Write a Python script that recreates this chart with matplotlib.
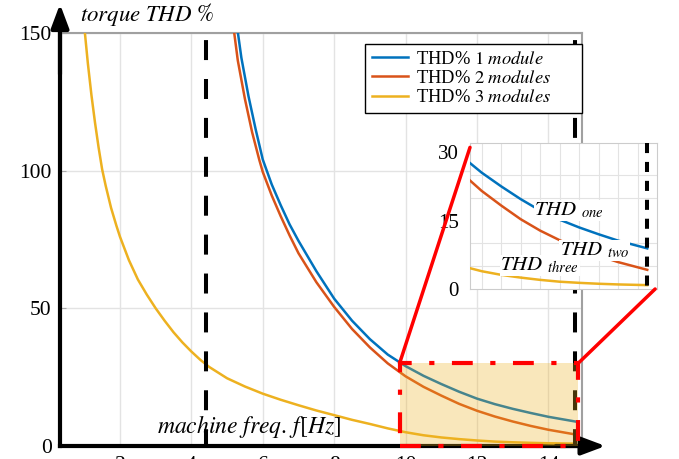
import matplotlib
matplotlib.use("Agg")
import matplotlib.pyplot as plt
from matplotlib.patches import Rectangle, ConnectionPatch

plt.rcParams['font.family'] = ['Liberation Serif', 'DejaVu Serif']
plt.rcParams['mathtext.fontset'] = 'stix'

# machine frequency [Hz] and torque THD [%]
freq_1 = [5.25, 5.4, 5.6, 5.8, 6.0, 6.25, 6.5, 6.75, 7.0, 7.5, 8.0, 8.5, 9.0,
          9.5, 10.0, 10.5, 11.0, 11.5, 12.0, 12.5, 13.0, 13.5, 14.0, 14.75]
thd_1 = [155, 141, 127, 115, 104, 95, 87.5, 80.5, 74.5, 63.5, 53.5, 45.5,
         38.8, 33.2, 29, 25.5, 22.5, 19.7, 17.2, 15.2, 13.5, 12.0, 10.6, 8.9]

freq_2 = [5.15, 5.3, 5.5, 5.7, 5.9, 6.0, 6.25, 6.5, 6.75, 7.0, 7.5, 8.0, 8.5,
          9.0, 9.5, 10.0, 10.5, 11.0, 11.5, 12.0, 12.5, 13.0, 13.5, 14.0,
          14.75]
thd_2 = [155, 140, 126, 114, 104, 99.5, 91, 83.5, 76.5, 70, 59.5, 50.5, 42.5,
         35.8, 30, 25.3, 21.5, 18.3, 15.3, 12.8, 10.7, 8.9, 7.3, 5.9, 4.2]

freq_3 = [0.98, 1.1, 1.2, 1.3, 1.4, 1.5, 1.6, 1.75, 1.9, 2.0, 2.25, 2.5, 2.75,
          3.0, 3.25, 3.5, 3.75, 4.0, 4.25, 4.5, 5.0, 5.5, 6.0, 6.5, 7.0, 7.5,
          8.0, 8.5, 9.0, 9.5, 10.0, 10.5, 11.0, 11.5, 12.0, 12.5, 13.0, 13.5,
          14.0, 14.75]
thd_3 = [155, 139, 127.5, 117.5, 108.5, 100.5, 94.5, 86.5, 80, 76, 67.5, 60.5,
         55, 50, 45.5, 41.3, 37.6, 34.3, 31.3, 28.7, 24.6, 21.6, 19, 16.8,
         14.8, 12.9, 11.2, 9.5, 8.0, 6.4, 5.0, 3.9, 3.1, 2.5, 2.0, 1.6, 1.35,
         1.15, 1.0, 0.85]

labels = [r"THD% $\mathit{1\ module}$", r"THD% $\mathit{2\ modules}$",
          r"THD% $\mathit{3\ modules}$"]
colors = ['#0072BD', '#D95319', '#EDB120']

x_ticks = [2, 4, 6, 8, 10, 12, 14]
y_ticks = [0, 50, 100, 150]
inset_y_ticks = [0, 15, 30]
marker_freqs = [4.4, 14.75]
zoom_f = (9.83, 14.83)
zoom_thd = (0, 30)

fig = plt.figure(figsize=(6.79, 4.59), dpi=100)
ax = fig.add_axes([60 / 679, 13 / 459, 522 / 679, 413 / 459])

series = [(freq_1, thd_1), (freq_2, thd_2), (freq_3, thd_3)]
for (f, t), c, lab in zip(series, colors, labels):
    ax.plot(f, t, color=c, lw=1.8, label=lab, zorder=3)

dash = (7.9, (4.96, 4.7))
for fm in marker_freqs:
    ax.plot([fm, fm], [150, 0], color='k', lw=2.9, linestyle=dash, zorder=4)

ax.add_patch(Rectangle((zoom_f[0], zoom_thd[0]), zoom_f[1] - zoom_f[0],
                       zoom_thd[1] - zoom_thd[0], facecolor='#EDB120',
                       alpha=0.3, edgecolor='none', zorder=5))
ax.add_patch(Rectangle((zoom_f[0], zoom_thd[0]), zoom_f[1] - zoom_f[0],
                       zoom_thd[1] - zoom_thd[0], facecolor='none',
                       edgecolor='#FF0000', lw=3,
                       linestyle=(0, (5, 4.2, 1.25, 4.2)), zorder=6,
                       clip_on=False))

ax.set_xlim(0.32, 14.94)
ax.set_ylim(0, 150)
ax.set_xticks(x_ticks)
ax.set_yticks(y_ticks)
ax.grid(True, color='#e3e3e3', lw=1)
ax.set_axisbelow(True)
ax.tick_params(axis='both', labelsize=15.5, length=4, direction='in',
               color='#aaaaaa')
ax.tick_params(axis='x', length=0, pad=7)
ax.tick_params(axis='y', pad=6)
for s in ['top', 'right']:
    ax.spines[s].set_color('#a0a0a0')
    ax.spines[s].set_linewidth(1.5)
for s in ['left', 'bottom']:
    ax.spines[s].set_color('k')
    ax.spines[s].set_linewidth(3)

# axis arrows
arrow = dict(arrowstyle='-|>,head_length=1.2,head_width=0.45', color='k',
             lw=3, mutation_scale=12, shrinkA=0, shrinkB=0)
ax.annotate('', xy=(0, 1.07), xytext=(0, 0.9), xycoords='axes fraction',
            arrowprops=arrow)
ax.annotate('', xy=(1.045, 0), xytext=(0.95, 0), xycoords='axes fraction',
            arrowprops=arrow)

fig.text(80 / 679, 1 - 14 / 459, r"$torque\ THD\ \%$", fontsize=16.5,
         va='center', ha='left')
fig.text(157 / 679, 1 - 427 / 459, r"$machine\ freq.\,f[Hz]$", fontsize=17,
         va='center', ha='left', zorder=7)

# legend with a MATLAB-like frame (extra room on the right)
ax.add_patch(Rectangle((365 / 679, 1 - 113 / 459), 217 / 679, 69 / 459,
                       transform=fig.transFigure, facecolor='white',
                       edgecolor='k', lw=1, zorder=9, clip_on=False))
leg = ax.legend(loc='upper left', bbox_to_anchor=(366 / 679, 1 - 45 / 459),
                bbox_transform=fig.transFigure, borderaxespad=0, fontsize=13.3,
                frameon=False, handlelength=2.0, handletextpad=0.4,
                labelspacing=0.12, borderpad=0.3)
leg.set_zorder(10)

# inset
axi = fig.add_axes([470 / 679, 1 - 289 / 459, 187 / 679, 146 / 459])
for (f, t), c in zip(series, colors):
    axi.plot(f, t, color=c, lw=1.8, zorder=3)
axi.plot([14.75, 14.75], [32, 0], color='k', lw=2.9,
         linestyle=(0, (2.5, 2.2)), zorder=4)
axi.set_xlim(10.2, 15.0)
axi.set_ylim(0, 32)
axi.set_xticks([])
axi.set_xticks([10.5 + 0.5 * i for i in range(9)], minor=True)
axi.set_yticks(inset_y_ticks)
axi.set_yticks([5 * i for i in range(7)], minor=True)
axi.tick_params(which='both', length=0)
axi.tick_params(axis='y', labelsize=15, pad=8)
axi.grid(True, which='minor', color='#e3e3e3', lw=0.8)
axi.set_axisbelow(True)
for s in axi.spines.values():
    s.set_color('#cccccc')
box = dict(facecolor='white', edgecolor='none', pad=0.5)
axi.text(11.85, 17.3, r"$THD\ _{one}$", fontsize=15, va='center', ha='left',
         bbox=box, zorder=5)
axi.text(12.5, 8.4, r"$THD\ _{two}$", fontsize=15, va='center', ha='left',
         bbox=box, zorder=5)
axi.text(10.98, 5.1, r"$THD\ _{three}$", fontsize=15, va='center', ha='left',
         bbox=box, zorder=5)

# connector lines from zoom box to inset
for xyA, xyB in [((zoom_f[0], zoom_thd[1]), (0, 0.97)),
                 ((zoom_f[1], zoom_thd[1]), (0.99, 0))]:
    cp = ConnectionPatch(xyA=xyA, coordsA=ax.transData, xyB=xyB,
                         coordsB=axi.transAxes, color='#FF0000', lw=2.5,
                         zorder=8)
    fig.add_artist(cp)

fig.savefig('out.png', dpi=100)
